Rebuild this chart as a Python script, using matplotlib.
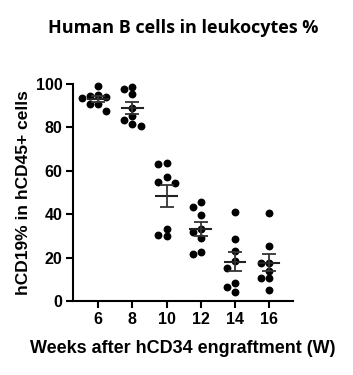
import numpy as np
import matplotlib.pyplot as plt

plt.rcParams['font.family'] = ['Liberation Sans', 'DejaVu Sans']
plt.rcParams['font.weight'] = 'bold'

weeks = [6, 8, 10, 12, 14, 16]
week_labels = ['6', '8', '10', '12', '14', '16']
values = [
    [99.0, 95.0, 94.5, 94.0, 93.5, 90.6, 90.6, 87.7],
    [98.8, 97.7, 95.4, 88.8, 85.4, 83.4, 81.4, 80.8],
    [63.7, 63.1, 57.0, 55.0, 54.2, 33.3, 30.3, 30.0],
    [45.5, 43.5, 39.6, 33.0, 31.7, 29.2, 22.4, 21.5],
    [41.2, 28.6, 23.0, 18.4, 15.3, 8.2, 6.3, 4.0],
    [40.7, 25.5, 17.4, 17.4, 14.0, 10.6, 10.6, 5.1],
]


def swarm(vals, xscale=17.0, yscale=2.17, dot=7.5, step=0.48):
    # simple beeswarm: push each dot sideways until it no longer overlaps
    placed = []
    offs = np.zeros(len(vals))
    order = np.argsort(vals)[::-1]
    for i in order:
        y = vals[i]
        for k in [0, -1, 1, -2, 2, -3, 3]:
            x = k * step
            ok = all((x - px) ** 2 * xscale ** 2 + (y - py) ** 2 * yscale ** 2 >= (dot * 0.95) ** 2
                     for px, py in placed)
            if ok:
                break
        placed.append((x, y))
        offs[i] = x
    return offs


fig = plt.figure(figsize=(3.53, 3.75), dpi=100)
ax = fig.add_axes([0.208, 0.197, 0.622, 0.579])

for w, v in zip(weeks, values):
    v = np.array(v)
    ax.scatter(w + swarm(v), v, s=32, color='black', zorder=3, clip_on=False, linewidths=0)
    m = v.mean()
    sem = v.std(ddof=1) / np.sqrt(len(v))
    ax.plot([w - 0.6, w + 0.6], [m, m], color='#222222', lw=1.5, zorder=4)
    ax.errorbar(w, m, yerr=sem, fmt='none', ecolor='#333333', elinewidth=1.3,
                capsize=5, capthick=1.3, zorder=4)

ax.set_xlim(4.55, 17.4)
ax.set_ylim(0, 100)
ax.set_xticks(weeks)
ax.set_xticklabels(week_labels)
ax.set_yticks([0, 20, 40, 60, 80, 100])
ax.spines['top'].set_visible(False)
ax.spines['right'].set_visible(False)
for s in ['left', 'bottom']:
    ax.spines[s].set_linewidth(1.5)
ax.tick_params(width=1.5, length=5, labelsize=11.5, direction='out', pad=3)
for lab in ax.get_xticklabels() + ax.get_yticklabels():
    lab.set_fontweight('bold')

ax.set_xlabel('Weeks after hCD34 engraftment (W)', fontsize=13, fontweight='bold', labelpad=9)
ax.set_ylabel('hCD19% in hCD45+ cells', fontsize=12.5, fontweight='bold', labelpad=3)
fig.text(0.52, 0.925, 'Human B cells in leukocytes %', ha='center', va='center',
         fontsize=13, fontweight='bold', family=['Open Sans', 'DejaVu Sans'])

fig.savefig('out.png', dpi=100)
